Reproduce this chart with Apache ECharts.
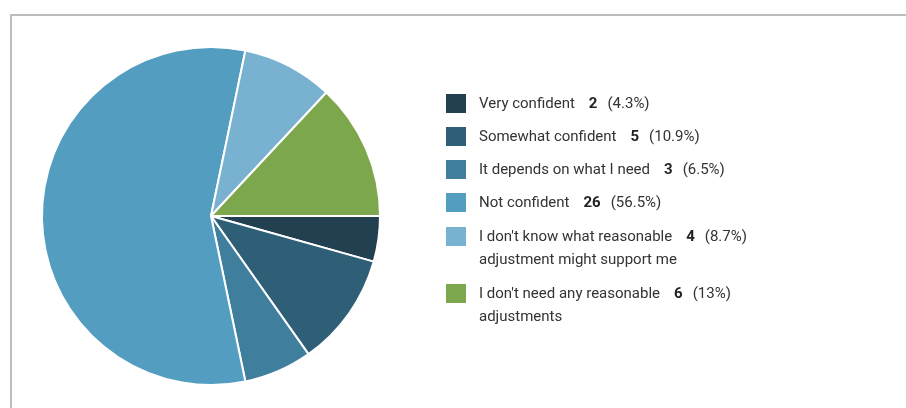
<!DOCTYPE html>
<html>
<head>
<meta charset="utf-8">
<script src="https://cdn.jsdelivr.net/npm/echarts@6/dist/echarts.min.js"></script>
<style>
  html, body { margin: 0; padding: 0; background: #fff; }
  #chart { position: absolute; left: 0; top: 0; width: 906px; height: 408px; }
  #frame { position: absolute; left: 10px; top: 14px; width: 900px; height: 400px;
    border-top: 2px solid #bdbdbd; border-left: 2px solid #bdbdbd; pointer-events: none; }
</style>
</head>
<body>
<div id="chart"></div>
<div id="frame"></div>
<script>
// categories (line breaks as shown in the legend)
const categories = [
  'Very confident',
  'Somewhat confident',
  'It depends on what I need',
  'Not confident',
  "I don't know what reasonable\nadjustment might support me",
  "I don't need any reasonable\nadjustments"
]
const counts = [2, 5, 3, 26, 4, 6]
const colors = ['#22404f', '#2f5f77', '#3f7f9d', '#539dc0', '#79b2d0', '#7da74c']

const total = counts.reduce((a, b) => a + b, 0)
const pct = v => +(v / total * 100).toFixed(1) + '%'

const chart = echarts.init(document.getElementById('chart'))

function fmt(name) {
  const i = categories.indexOf(name)
  const lines = name.split('\n')
  let s = '{n|' + lines[0] + '}{b|' + counts[i] + '}{n|(' + pct(counts[i]) + ')}'
  for (let k = 1; k < lines.length; k++) {
    s += '\n{n|' + lines[k] + '}'
  }
  return s
}

const rich1 = {
  n: { fontSize: 15, color: '#333', fontFamily: 'Roboto', lineHeight: 21 },
  b: { fontSize: 15, color: '#222', fontWeight: 'bold', fontFamily: 'Roboto', lineHeight: 21, padding: [0, 10, 0, 14] }
}
const rich2 = {
  n: { fontSize: 15, color: '#333', fontFamily: 'Roboto', lineHeight: 23 },
  b: { fontSize: 15, color: '#222', fontWeight: 'bold', fontFamily: 'Roboto', lineHeight: 23, padding: [0, 10, 0, 14] }
}

chart.setOption({
  animation: false,
  color: colors,
  legend: [
    {
      orient: 'vertical',
      left: 444,
      top: 92,
      padding: 0,
      itemWidth: 22,
      itemHeight: 21,
      itemGap: 10,
      icon: 'rect',
      selectedMode: false,
      data: categories.slice(0, 4),
      formatter: fmt,
      textStyle: { padding: [2, 0, 0, 7], rich: rich1 }
    },
    {
      orient: 'vertical',
      left: 444,
      top: 225,
      padding: 0,
      itemWidth: 22,
      itemHeight: 21,
      itemGap: 14,
      icon: 'rect',
      selectedMode: false,
      data: categories.slice(4),
      formatter: fmt,
      textStyle: { padding: [25, 0, 0, 7], rich: rich2 }
    }
  ],
  series: [
    {
      type: 'pie',
      center: [211, 216],
      radius: 169,
      startAngle: 0,
      clockwise: true,
      label: { show: false },
      labelLine: { show: false },
      itemStyle: { borderColor: '#fff', borderWidth: 2 },
      emphasis: { disabled: true },
      data: categories.map((c, i) => ({ name: c, value: counts[i] }))
    }
  ]
})
</script>
</body>
</html>
